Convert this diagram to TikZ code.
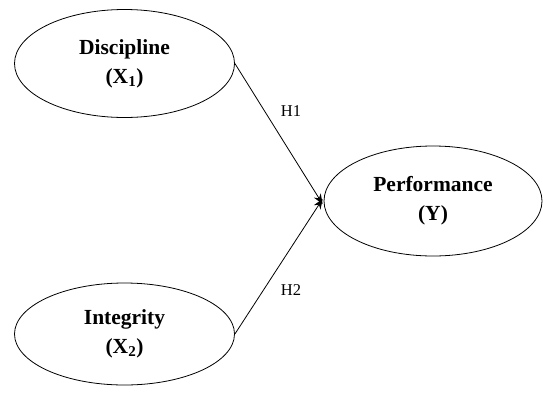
\documentclass[tikz,border=0pt]{standalone}
\usepackage{fontspec}
\setmainfont{Liberation Serif}
\usetikzlibrary{arrows.meta,shapes.geometric}
\begin{document}
\begin{tikzpicture}[x=1pt,y=-1pt,
  latent/.style={draw,line width=0.8pt,ellipse,inner sep=0pt,minimum width=220pt,minimum height=108pt,align=center,font=\fontsize{21.5}{29}\selectfont\bfseries},
  path/.style={draw,line width=0.8pt,-{Stealth[length=10pt,width=8pt]}},
  hlabel/.style={font=\fontsize{16.5}{19}\selectfont}]
\useasboundingbox (0,0) rectangle (543,394);
\node[latent] (d) at (124.5,63.5) {Discipline\\(X\textsubscript{1})};
\node[latent,minimum height=102pt] (i) at (124.5,334) {Integrity\\(X\textsubscript{2})};
\node[latent,minimum width=218pt,minimum height=110pt] (p) at (433,201) {Performance\\(Y)};
\draw[path] (d.east) -- ([xshift=-1pt,yshift=-3pt]p.west);
\draw[path] (i.east) -- ([xshift=-1pt,yshift=2pt]p.west);
\node[hlabel] (h1) at (291,111) {H1};
\node[hlabel] (h2) at (291,290) {H2};
\end{tikzpicture}
\end{document}
